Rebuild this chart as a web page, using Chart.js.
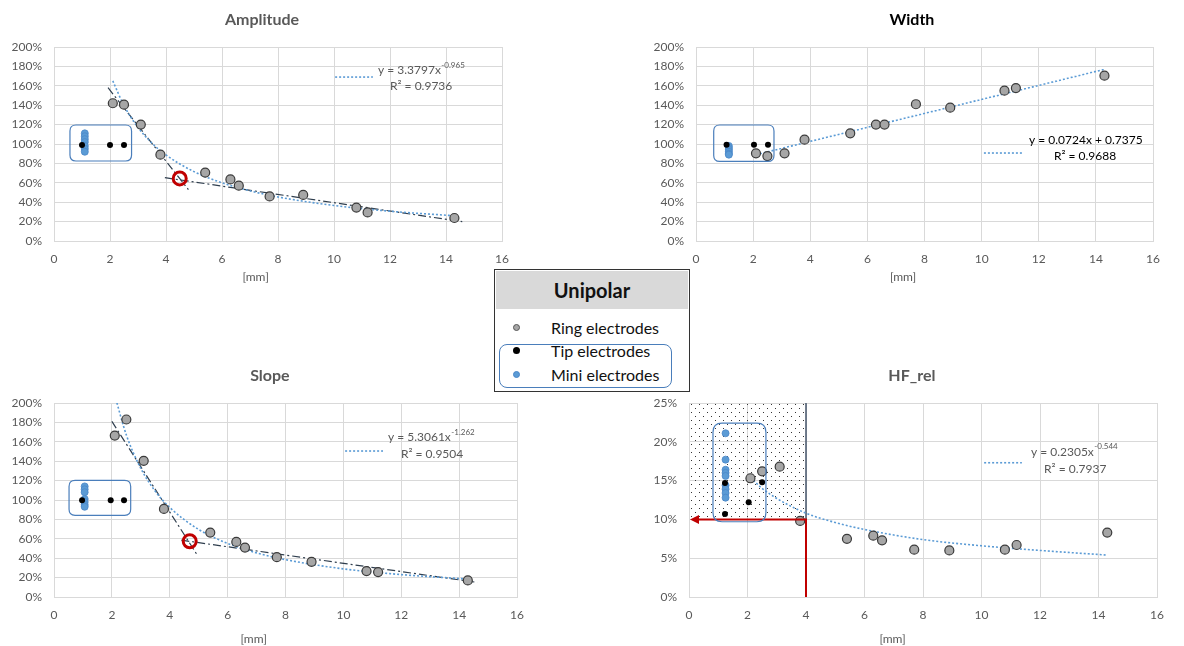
<!DOCTYPE html>
<html>
<head>
<meta charset="utf-8">
<script src="https://cdn.jsdelivr.net/npm/chart.js@4.4.1/dist/chart.umd.min.js"></script>
<style>
  body { margin: 0; background: #fff; font-family: Lato, "Open Sans", sans-serif; }
  #wrap { position: relative; width: 1184px; height: 646px; overflow: hidden; }
  canvas { position: absolute; }
  #legend { position: absolute; left: 494px; top: 269px; width: 196px; height: 123px; box-sizing: border-box;
            border: 1px solid #333; background: #fff; z-index: 5; color: #111; }
  #legend .head { position: absolute; left: 1px; right: 1px; top: 1px; height: 38px; background: #d9d9d9;
                  font-weight: bold; font-size: 20px; line-height: 38px; text-align: center; }
  #legend .item { position: absolute; left: 56px; height: 20px; line-height: 20px; font-size: 16px; white-space: nowrap; }
  #legend .dot { position: absolute; left: -38px; top: 6px; width: 7px; height: 7px; border-radius: 50%; box-sizing: border-box; }
  #legend .group { position: absolute; left: 4px; top: 74px; width: 173px; height: 44px; border: 1.2px solid #4a7ebb; border-radius: 8px; box-sizing: border-box; }
</style>
</head>
<body>
<div id="wrap">
  <canvas id="amp" width="525" height="290" style="left:0px;top:0px"></canvas>
  <canvas id="wid" width="542" height="290" style="left:642px;top:0px"></canvas>
  <canvas id="slo" width="540" height="290" style="left:0px;top:356px"></canvas>
  <canvas id="hfr" width="549" height="290" style="left:635px;top:356px"></canvas>
  <div id="legend">
    <div class="head">Unipolar</div>
    <div class="item" style="top:48px"><span class="dot" style="background:#a6a6a6;border:1px solid #555"></span>Ring electrodes</div>
    <div class="item" style="top:71px"><span class="dot" style="background:#000"></span>Tip electrodes</div>
    <div class="item" style="top:95px"><span class="dot" style="background:#5b9bd5;border:1px solid #4a86c8"></span>Mini electrodes</div>
    <div class="group"></div>
  </div>
</div>
<script>
// distancia [mm] de los electrodos de anillo (igual en las 4 gráficas)
const ringX = [2.1, 2.5, 3.1, 3.8, 5.4, 6.3, 6.6, 7.7, 8.9, 10.8, 11.2, 14.3];

// Amplitude
const ampRing = [142, 140.5, 120, 89, 70.5, 63.5, 57, 46, 47.5, 34.5, 29.5, 23.7];
const ampTipX = [1.0, 2.0, 2.5];
const ampTip = [99, 99, 99];
const ampMiniX = 1.1;
const ampMini = [111, 108, 105, 102, 98, 95, 92];
const ampFitX = [2.1, 2.5, 3, 3.5, 4, 5, 6, 7, 8, 10, 12, 14.3];
const ampFit = [165, 139.6, 117.1, 100.9, 88.7, 71.5, 60.0, 51.7, 45.4, 36.6, 30.7, 26];
const ampSteepX = [1.93, 4.8], ampSteep = [158, 53];
const ampFlatX = [3.96, 14.58], ampFlat = [65.3, 19.9];
const ampMark = {x: 4.49, y: 64.5};

// Width
const widRing = [90.4, 87.6, 90.4, 104.5, 111, 120, 120, 141, 137.5, 155, 157.7, 170.4];
const widTipX = [1.07, 2.03, 2.52];
const widTip = [99.3, 99.3, 99.3];
const widMiniX = 1.15;
const widMini = [98, 96, 94, 92, 90, 89];
const widFitX = [2.1, 14.3];
const widFit = [89, 177];

// Slope
const sloRing = [166.4, 183, 140.4, 90.8, 66.4, 56.8, 51, 41.1, 36.3, 26.7, 25.7, 17.1];
const sloTipX = [0.97, 1.96, 2.42];
const sloTip = [99.7, 99.7, 99.7];
const sloMiniX = 1.06;
const sloMini = [114, 111, 108, 101, 98, 95, 93];
const sloFitX = [2.1, 2.5, 3, 3.5, 4, 5, 6, 7, 8, 10, 12, 14.3];
const sloFit = [208, 167, 132.6, 109, 92.3, 69.6, 55.3, 45.5, 38.5, 29.0, 23.1, 18.5];
const sloSteepX = [2.0, 4.96], sloSteep = [181, 42.8];
const sloFlatX = [4.4, 14.63], sloFlat = [58.6, 15];
const sloMark = {x: 4.69, y: 57.5};

// HF_rel
const hfRing = [15.3, 16.2, 16.8, 9.8, 7.5, 7.9, 7.3, 6.1, 6.0, 6.1, 6.7, 8.3];
const hfTipX = [1.23, 1.23, 2.04, 2.5];
const hfTip = [14.7, 10.7, 12.2, 14.8];
const hfMiniX = 1.25;
const hfMini = [21.1, 17.7, 16.4, 16.0, 15.6, 14.4, 13.9, 13.4, 12.8];
const hfFitX = [2.1, 2.5, 3, 4, 5, 6, 8, 10, 12, 14.3];
const hfFit = [15.4, 14.0, 12.7, 10.8, 9.6, 8.7, 7.4, 6.6, 6.0, 5.4];

const xTicks = [0, 2, 4, 6, 8, 10, 12, 14, 16];

const pts = (xs, ys) => xs.map((x, i) => ({x: x, y: ys[i]}));

// dibujos extra por gráfica (títulos, ecuaciones, cajas, flechas)
const extra = {};

let patron = null;
const dotPattern = (ctx) => {
    if (!patron) {
        const c = document.createElement('canvas');
        c.width = 8; c.height = 8;
        const g = c.getContext('2d');
        g.fillStyle = '#333';
        g.fillRect(0, 0, 1, 1);
        g.fillRect(4, 4, 1, 1);
        patron = ctx.createPattern(c, 'repeat');
    }
    return patron;
};

const roundBox = (ctx, x, y, w, h, r) => {
    ctx.beginPath();
    ctx.moveTo(x + r, y);
    ctx.lineTo(x + w - r, y);
    ctx.quadraticCurveTo(x + w, y, x + w, y + r);
    ctx.lineTo(x + w, y + h - r);
    ctx.quadraticCurveTo(x + w, y + h, x + w - r, y + h);
    ctx.lineTo(x + r, y + h);
    ctx.quadraticCurveTo(x, y + h, x, y + h - r);
    ctx.lineTo(x, y + r);
    ctx.quadraticCurveTo(x, y, x + r, y);
    ctx.closePath();
};

const decor = {
    id: 'decor',
    beforeDatasetsDraw(chart) {
        const o = extra[chart.canvas.id];
        const ctx = chart.ctx, sx = chart.scales.x, sy = chart.scales.y;
        if (o.shade) {
            const [x0, x1, y0, y1] = o.shade;
            const l = sx.getPixelForValue(x0), r = sx.getPixelForValue(x1);
            const t = sy.getPixelForValue(y1), b = sy.getPixelForValue(y0);
            ctx.save();
            ctx.fillStyle = dotPattern(ctx);
            ctx.fillRect(l + 1, t + 1, r - l - 1, b - t - 1);
            ctx.strokeStyle = '#44546a';
            ctx.lineWidth = 1.5;
            ctx.beginPath();
            ctx.moveTo(r, t);
            ctx.lineTo(r, b);
            ctx.stroke();
            ctx.restore();
        }
    },
    afterDatasetsDraw(chart) {
        const o = extra[chart.canvas.id];
        const ctx = chart.ctx, sx = chart.scales.x, sy = chart.scales.y;
        ctx.save();
        if (o.arrow) {
            // línea roja en x=4 y flecha hacia el eje Y en 10 %
            const [ax, ay] = o.arrow;
            const px = sx.getPixelForValue(ax), py = sy.getPixelForValue(ay);
            const p0 = sx.getPixelForValue(0), pb = sy.getPixelForValue(0);
            ctx.strokeStyle = '#c00000';
            ctx.fillStyle = '#c00000';
            ctx.lineWidth = 2;
            ctx.beginPath();
            ctx.moveTo(px, pb);
            ctx.lineTo(px, py);
            ctx.lineTo(p0 + 8, py);
            ctx.stroke();
            ctx.beginPath();
            ctx.moveTo(p0 + 1, py);
            ctx.lineTo(p0 + 10, py - 4.5);
            ctx.lineTo(p0 + 10, py + 4.5);
            ctx.closePath();
            ctx.fill();
        }
        ctx.strokeStyle = '#4a7ebb';
        ctx.lineWidth = 1.2;
        const [bx0, bx1, by0, by1, br] = o.box;
        const l = sx.getPixelForValue(bx0), r = sx.getPixelForValue(bx1);
        const t = sy.getPixelForValue(by1), b = sy.getPixelForValue(by0);
        roundBox(ctx, l, t, r - l, b - t, br);
        ctx.stroke();
        ctx.restore();
    },
    afterDraw(chart) {
        const o = extra[chart.canvas.id];
        const ctx = chart.ctx, a = chart.chartArea, sx = chart.scales.x, sy = chart.scales.y;
        ctx.save();
        ctx.textBaseline = 'middle';
        ctx.textAlign = 'center';
        ctx.font = 'bold 16px Lato';
        ctx.fillStyle = o.titleColor;
        ctx.fillText(o.title, sx.getPixelForValue(o.titleX), a.top - 27);
        ctx.font = '12px Lato';
        ctx.fillStyle = '#595959';
        ctx.fillText('[mm]', sx.getPixelForValue(o.unitX), a.bottom + o.unitDy);

        // muestra de la línea de tendencia
        const e = o.eq;
        ctx.strokeStyle = '#5b9bd5';
        ctx.lineWidth = 1.6;
        ctx.setLineDash([2, 2]);
        ctx.beginPath();
        ctx.moveTo(sx.getPixelForValue(e.lx[0]), sy.getPixelForValue(e.lx[2]));
        ctx.lineTo(sx.getPixelForValue(e.lx[1]), sy.getPixelForValue(e.lx[2]));
        ctx.stroke();
        ctx.setLineDash([]);

        ctx.textAlign = 'left';
        ctx.fillStyle = e.color;
        ctx.font = '12px Lato';
        const px = sx.getPixelForValue(e.x), py = sy.getPixelForValue(e.y);
        ctx.fillText(e.text, px, py);
        if (e.sup) {
            const w = ctx.measureText(e.text).width;
            ctx.font = '8px Lato';
            ctx.fillText(e.sup, px + w + 0.5, py - 5);
            ctx.font = '12px Lato';
        }
        ctx.fillText(e.r2, sx.getPixelForValue(e.rx), sy.getPixelForValue(e.ry));
        ctx.restore();
    }
};

const makeChart = (id, cfg) => {
    const ds = [];
    if (cfg.mark) {
        ds.push({data: [cfg.mark], pointRadius: 6.5, pointBorderWidth: 3, pointBorderColor: '#c00000',
                 pointBackgroundColor: 'rgba(0,0,0,0)', order: 0});
    }
    ds.push({data: pts(ringX, cfg.ring), pointRadius: 4.5, pointBorderWidth: 1.2,
             pointBackgroundColor: '#a6a6a6', pointBorderColor: '#3a3a3a', order: 1});
    ds.push({data: pts(cfg.tipX, cfg.tip), pointRadius: 3, pointBorderWidth: 0,
             pointBackgroundColor: '#000', pointBorderColor: '#000', order: 2});
    ds.push({data: cfg.mini.map(v => ({x: cfg.miniX, y: v})), pointRadius: 3.5, pointBorderWidth: 0.8,
             pointBackgroundColor: '#5b9bd5', pointBorderColor: '#4a86c8', order: 3});
    ds.push({data: pts(cfg.fitX, cfg.fit), showLine: true, borderColor: '#5b9bd5', borderWidth: 1.6,
             borderDash: [2, 2], pointRadius: 0, cubicInterpolationMode: 'monotone', order: 4});
    (cfg.dashes || []).forEach(d => {
        ds.push({data: pts(d[0], d[1]), showLine: true, borderColor: '#2f3e4e', borderWidth: 1.2,
                 borderDash: [8, 3, 2, 3], pointRadius: 0, order: 5});
    });

    new Chart(document.getElementById(id), {
        type: 'scatter',
        data: {datasets: ds},
        options: {
            responsive: false,
            animation: false,
            layout: {padding: {top: 47, right: cfg.padRight, left: 0, bottom: 0}},
            plugins: {legend: {display: false}, tooltip: {enabled: false}},
            scales: {
                x: {
                    type: 'linear', min: 0, max: 16,
                    afterBuildTicks: s => { s.ticks = xTicks.map(v => ({value: v})); },
                    afterFit: s => { s.height = 49; },
                    grid: {color: '#d9d9d9', drawTicks: false},
                    border: {color: '#d9d9d9'},
                    ticks: {color: '#595959', font: {family: 'Lato', size: 12}, padding: 11, maxRotation: 0}
                },
                y: {
                    type: 'linear', min: 0, max: cfg.yMax,
                    ticks: {stepSize: cfg.yStep, color: '#595959', font: {family: 'Lato', size: 12}, padding: 12,
                            callback: v => v + '%'},
                    afterFit: s => { s.width = 54; },
                    grid: {color: '#d9d9d9', drawTicks: false},
                    border: {color: '#d9d9d9'}
                }
            }
        },
        plugins: [decor]
    });
};

extra.amp = {
    title: 'Amplitude', titleColor: '#595959', titleX: 7.43, unitX: 7.2, unitDy: 36,
    box: [0.57, 2.77, 82.5, 119.6, 6],
    eq: {text: 'y = 3.3797x', sup: '-0.965', x: 11.57, y: 176, r2: 'R² = 0.9736', rx: 12.0, ry: 160,
         lx: [10.04, 11.39, 169], color: '#595959'}
};
extra.wid = {
    title: 'Width', titleColor: '#000', titleX: 7.56, unitX: 7.25, unitDy: 36,
    box: [0.62, 2.73, 82, 119.6, 6],
    eq: {text: 'y = 0.0724x + 0.7375', sup: '', x: 11.66, y: 104, r2: 'R² = 0.9688', rx: 12.53, ry: 87.6,
         lx: [10.08, 11.41, 90.7], color: '#000'}
};
extra.slo = {
    title: 'Slope', titleColor: '#595959', titleX: 7.46, unitX: 6.9, unitDy: 42,
    box: [0.52, 2.65, 84.2, 120.2, 6],
    eq: {text: 'y = 5.3061x', sup: '-1.262', x: 11.54, y: 165, r2: 'R² = 0.9504', rx: 11.99, ry: 147.4,
         lx: [10.06, 11.37, 150.5], color: '#595959'}
};
extra.hfr = {
    title: 'HF_rel', titleColor: '#595959', titleX: 7.62, unitX: 6.96, unitDy: 42,
    box: [0.82, 2.63, 9.7, 22.4, 9],
    shade: [0, 4, 10, 25],
    arrow: [4, 10],
    eq: {text: 'y = 0.2305x', sup: '-0.544', x: 11.69, y: 18.7, r2: 'R² = 0.7937', rx: 12.14, ry: 16.5,
         lx: [10.09, 11.38, 17.3], color: '#595959'}
};

makeChart('amp', {ring: ampRing, tipX: ampTipX, tip: ampTip, miniX: ampMiniX, mini: ampMini,
                  fitX: ampFitX, fit: ampFit, dashes: [[ampSteepX, ampSteep], [ampFlatX, ampFlat]],
                  mark: ampMark, yMax: 200, yStep: 20, padRight: 23});
makeChart('wid', {ring: widRing, tipX: widTipX, tip: widTip, miniX: widMiniX, mini: widMini,
                  fitX: widFitX, fit: widFit, yMax: 200, yStep: 20, padRight: 31});
makeChart('slo', {ring: sloRing, tipX: sloTipX, tip: sloTip, miniX: sloMiniX, mini: sloMini,
                  fitX: sloFitX, fit: sloFit, dashes: [[sloSteepX, sloSteep], [sloFlatX, sloFlat]],
                  mark: sloMark, yMax: 200, yStep: 20, padRight: 23});
makeChart('hfr', {ring: hfRing, tipX: hfTipX, tip: hfTip, miniX: hfMiniX, mini: hfMini,
                  fitX: hfFitX, fit: hfFit, yMax: 25, yStep: 5, padRight: 27});
</script>
</body>
</html>
